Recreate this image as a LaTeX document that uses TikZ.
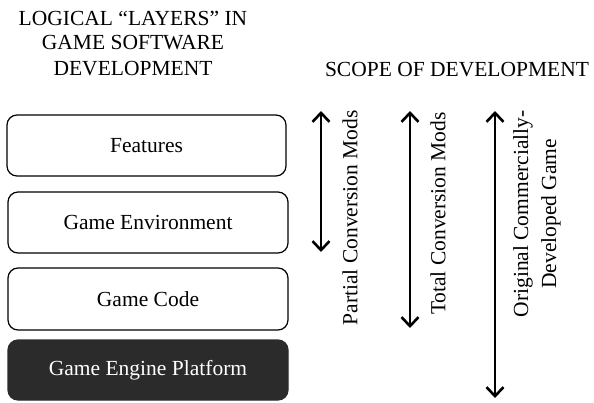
\documentclass[tikz,border=0pt]{standalone}
\usepackage{fontspec}
\setmainfont{Liberation Serif}
\usetikzlibrary{arrows.meta}
\definecolor{darkbox}{HTML}{2B2B2B}
\begin{document}
\begin{tikzpicture}[x=1pt,y=-1pt,
  layer/.style={draw=black,line width=1.2pt,rounded corners=10pt},
  lbl/.style={font=\fontsize{21.5}{25}\selectfont,inner sep=0pt},
  tip/.style={},
  scope/.style={line width=1.6pt,{Straight Barb[length=9pt,width=17pt,line width=2.6pt]}-{Straight Barb[length=9pt,width=17pt,line width=2.6pt]}},
  vlab/.style={font=\fontsize{21.5}{28}\selectfont,inner sep=0pt,rotate=90,anchor=east,align=center}]
\useasboundingbox (0,0) rectangle (594,402);
\node[lbl,align=center] (title) at (133,43) {LOGICAL “LAYERS” IN\\GAME SOFTWARE\\DEVELOPMENT};
\node[lbl] (scopetitle) at (457,70) {SCOPE OF DEVELOPMENT};
\draw[layer] (7,115) rectangle (286,176);
\node[lbl] (feat) at (146.5,145.5) {Features};
\draw[layer] (8,192) rectangle (288,253);
\node[lbl] (env) at (148,222.5) {Game Environment};
\draw[layer] (8,268) rectangle (288,330);
\node[lbl] (code) at (148,299) {Game Code};
\draw[layer,fill=darkbox,draw=darkbox] (8,340) rectangle (288,400);
\node[lbl,text=white] (engine) at (148,370) {Game Engine Platform};
\coordinate (a1t) at (321,111);
\coordinate (a1b) at (321,252);
\coordinate (a2t) at (410,111);
\coordinate (a2b) at (410,328);
\coordinate (a3t) at (495,111);
\coordinate (a3b) at (495,398);
\draw[scope] (a1t) -- (a1b);
\draw[scope] (a2t) -- (a2b);
\draw[scope] (a3t) -- (a3b);
\node[vlab] (l1) at (350,110) {Partial Conversion Mods};
\node[vlab] (l2) at (438,112) {Total Conversion Mods};
\node[vlab] (l3) at (537,110) {Original Commercially-\\Developed Game};
\end{tikzpicture}
\end{document}
